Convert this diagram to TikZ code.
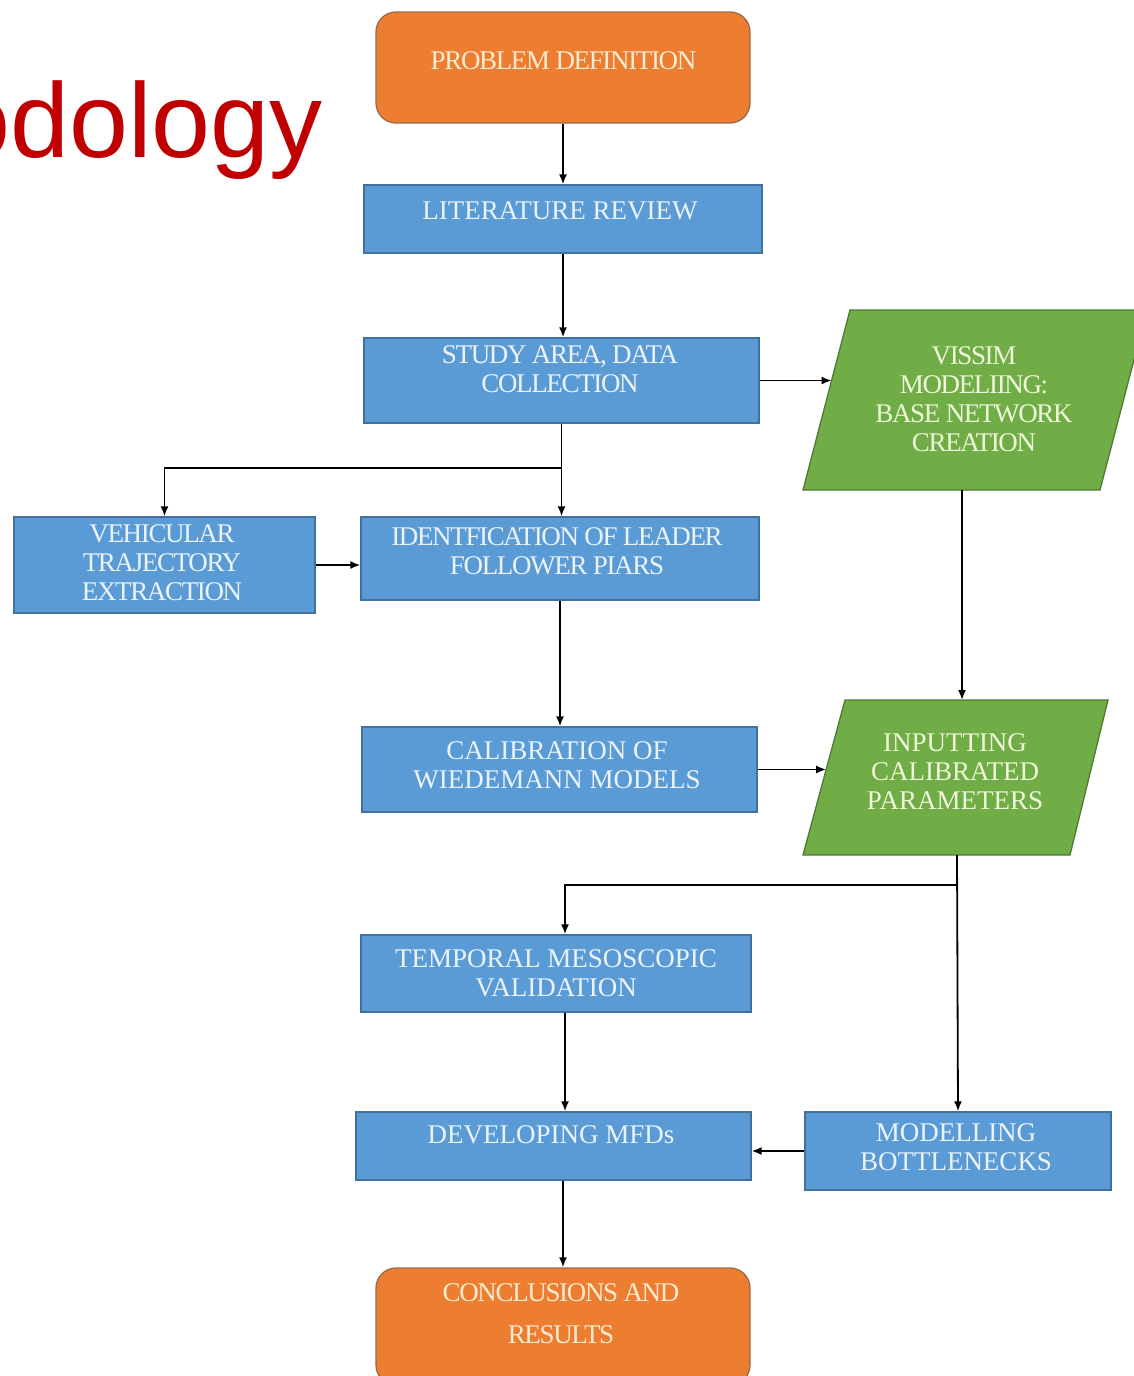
\documentclass[tikz,border=0pt]{standalone}
\usepackage{fontspec}
\setmainfont{Liberation Serif}
\newfontfamily\titlefont{Liberation Sans}
\newfontfamily\lblfont{Liberation Serif}
\newfontfamily\lbltight[LetterSpace=-5]{Liberation Serif}
\usetikzlibrary{arrows.meta,calc}
\definecolor{oF}{HTML}{ED7D31}
\definecolor{oD}{HTML}{9A6A4A}
\definecolor{bF}{HTML}{5B9BD5}
\definecolor{bD}{HTML}{41719C}
\definecolor{gF}{HTML}{70AD47}
\definecolor{gD}{HTML}{4E7A34}
\definecolor{tO}{HTML}{FCEBD2}
\definecolor{tB}{HTML}{EAF3FB}
\definecolor{tG}{HTML}{EEF7D8}
\definecolor{titleRed}{HTML}{C00000}
\begin{document}
\begin{tikzpicture}[x=1pt,y=-1pt,
  bluebox/.style={draw=bD,fill=bF,line width=1.3pt,inner sep=0pt},
  orangebox/.style={draw=oD,fill=oF,line width=1.3pt,rounded corners=20pt,inner sep=0pt},
  greenpar/.style={draw=gD,fill=gF,line width=1.3pt},
  lbl/.style={font=\lblfont\fontsize{27}{29}\selectfont,align=center,inner sep=0pt},
  lbltt/.style={font=\lbltight\fontsize{27}{29}\selectfont,align=center,inner sep=0pt},
  arr/.style={-{Latex[length=10pt,width=8pt]},line width=1.8pt,draw=black}
]
\useasboundingbox (0,0) rectangle (1134,1376);
\clip (0,0) rectangle (1134,1376);

% title fragment
\node[font=\titlefont\fontsize{106}{110}\selectfont,text=titleRed,anchor=base east,inner sep=0pt] (title) at (323,157) {odology};

% boxes
\node[orangebox,minimum width=374,minimum height=111] (pd) at (563,67.5) {};
\node[bluebox,minimum width=398,minimum height=68] (lr) at (563,219) {};
\node[bluebox,minimum width=395,minimum height=85] (sa) at (561.5,380.5) {};
\node[bluebox,minimum width=301,minimum height=96] (vt) at (164.5,565) {};
\node[bluebox,minimum width=398,minimum height=83] (id) at (560,558.5) {};
\node[bluebox,minimum width=395,minimum height=85] (cal) at (559.5,769.5) {};
\node[bluebox,minimum width=390,minimum height=77] (temp) at (556,973.5) {};
\node[bluebox,minimum width=395,minimum height=68] (dev) at (553.5,1146) {};
\node[bluebox,minimum width=306,minimum height=78] (mb) at (958,1151) {};
\node[orangebox,minimum width=374,minimum height=117] (conc) at (563,1326.5) {};

% parallelograms (data shapes)
\coordinate (vTL) at (850,310);
\coordinate (vTR) at (1147,310);
\coordinate (vBR) at (1100,490);
\coordinate (vBL) at (803,490);
\path[greenpar] (vTL) -- (vTR) -- (vBR) -- (vBL) -- cycle;
\coordinate (vIn) at (831.6,380.5);
\coordinate (vOut) at (962,490);

\coordinate (iTL) at (845,700);
\coordinate (iTR) at (1108,700);
\coordinate (iBR) at (1070,855);
\coordinate (iBL) at (803,855);
\path[greenpar] (iTL) -- (iTR) -- (iBR) -- (iBL) -- cycle;
\coordinate (iTop) at (962,700);
\coordinate (iIn) at (826.2,769.5);
\coordinate (iOut) at (957,855);

% labels
\node[lbltt,text=tO] (pdt) at (563.5,61) {PROBLEM DEFINITION};
\node[lbl,text=tB] (lrt) at (560,211) {LITERATURE REVIEW};
\node[lbltt,text=tB] (sat) at (560,369) {STUDY AREA, DATA\\COLLECTION};
\node[lbltt,text=tG] (vissim) at (974,399) {VISSIM\\MODELIING:\\BASE NETWORK\\CREATION};
\node[lbltt,text=tB] (vtt) at (162,563) {VEHICULAR\\TRAJECTORY\\EXTRACTION};
\node[lbltt,text=tB] (idt) at (557,551) {IDENTFICATION OF LEADER\\FOLLOWER PIARS};
\node[lbl,text=tB] (calt) at (557,765) {CALIBRATION OF\\WIEDEMANN MODELS};
\node[lbl,text=tG] (input) at (955,772) {INPUTTING\\CALIBRATED\\PARAMETERS};
\node[lbl,text=tB] (tempt) at (556,973) {TEMPORAL MESOSCOPIC\\VALIDATION};
\node[lbl,text=tB] (devt) at (551,1135) {DEVELOPING MFDs};
\node[lbl,text=tB] (mbt) at (956,1147.5) {MODELLING\\BOTTLENECKS};
\node[lbltt,text=tO] (conct) at (561,1314) {CONCLUSIONS AND\\[13pt]RESULTS};

% connectors
\draw[arr] (pd.south) -- (lr.north);
\draw[arr] (lr.south) -- (lr.south |- sa.north);
\draw[arr] (sa.east) -- (vIn);
\draw[arr] (sa.south) -- (sa.south |- id.north);
\coordinate (j1) at ($(sa.south)+(0,44)$);
\draw[arr] (j1) -| (vt.north);
\draw[arr] (vt.east) -- (vt.east -| id.west);
\draw[arr] (id.south) -- (id.south |- cal.north);
\draw[arr] (vOut) -- (iTop);
\draw[arr] (cal.east) -- (iIn);
\draw[arr] (iOut) -- (mb.north);
\coordinate (j2) at ($(iOut)+(0,30)$);
\draw[arr] (j2) -| ([xshift=9pt]temp.north);
\coordinate (t1) at ([xshift=9pt]temp.south);
\draw[arr] (t1) -- (t1 |- dev.north);
\draw[arr] (mb.west) -- (mb.west -| dev.east);
\draw[arr] (dev.south -| conc.north) -- (conc.north);
\end{tikzpicture}
\end{document}
